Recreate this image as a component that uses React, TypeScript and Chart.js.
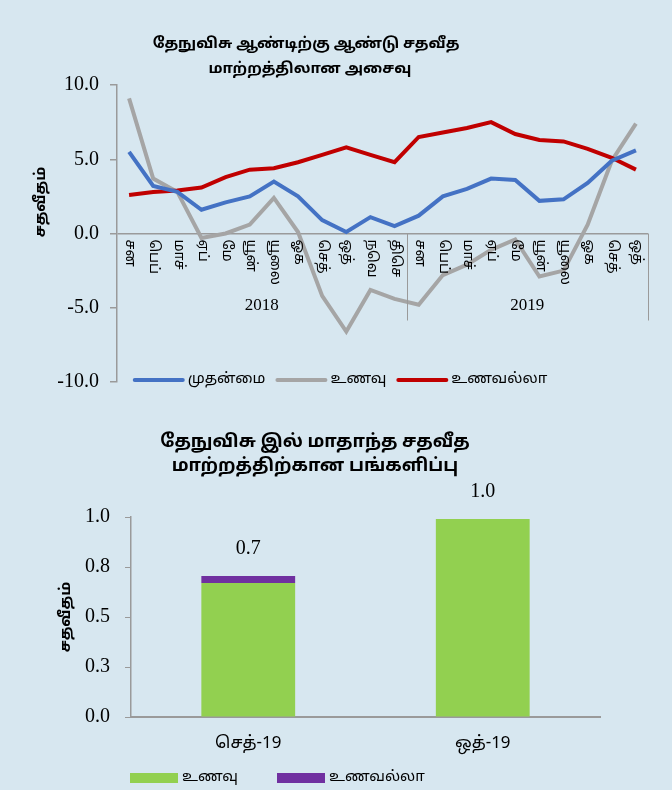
import React, { useEffect, useRef } from "react";
import { Chart, registerables } from "chart.js";
Chart.register(...registerables);

const TAMIL = "'Noto Sans Tamil', 'Lohit Tamil', 'Latha', 'Noto Sans', 'DejaVu Sans', sans-serif";
const SERIF = "'Liberation Serif', 'DejaVu Serif', serif";
const BG = "#d7e7f0";
const AXIS = "#9a9a9a";

// ---- Top chart data ----
const topTitle = ["தேநுவிசு ஆண்டிற்கு ஆண்டு சதவீத", "மாற்றத்திலான அசைவு"];
const yTitle = "சதவீதம்";
const months2018 = ["சன", "பெப்", "மாச்", "ஏப்", "மே", "யூன்", "யூலை", "ஓக", "செத்", "ஒத்", "நவெ", "திசெ"];
const months2019 = ["சன", "பெப்", "மாச்", "ஏப்", "மே", "யூன்", "யூலை", "ஓக", "செத்", "ஒத்"];
const years = ["2018", "2019"];
const seriesNames = ["முதன்மை", "உணவு", "உணவல்லா"];
const headline = [5.5, 3.2, 2.8, 1.6, 2.1, 2.5, 3.5, 2.5, 0.9, 0.1, 1.1, 0.5, 1.2, 2.5, 3.0, 3.7, 3.6, 2.2, 2.3, 3.4, 4.9, 5.6];
const food = [9.1, 3.7, 2.8, -0.3, 0.0, 0.6, 2.4, 0.1, -4.2, -6.6, -3.8, -4.4, -4.8, -2.8, -2.1, -1.1, -0.4, -2.9, -2.5, 0.6, 4.9, 7.4];
const nonFood = [2.6, 2.8, 2.9, 3.1, 3.8, 4.3, 4.4, 4.8, 5.3, 5.8, 5.3, 4.8, 6.5, 6.8, 7.1, 7.5, 6.7, 6.3, 6.2, 5.7, 5.1, 4.3];
const seriesColors = ["#4472c4", "#a5a5a5", "#c00000"];

// ---- Bottom chart data ----
const bottomTitle = ["தேநுவிசு இல் மாதாந்த சதவீத", "மாற்றத்திற்கான பங்களிப்பு"];
const barCategories = ["செத்-19", "ஒத்-19"];
const barNames = ["உணவு", "உணவல்லா"];
const barFood = [0.67, 0.99];
const barNonFood = [0.035, 0.0];
const barColors = ["#92d050", "#7030a0"];

const topLabels = [...months2018, ...months2019];

const topDecor = {
  id: "topDecor",
  afterDraw(chart: any) {
    const { ctx, scales } = chart;
    const x = scales.x;
    const y = scales.y;
    const zeroY = y.getPixelForValue(0);
    ctx.save();
    // titles
    ctx.fillStyle = "#000";
    ctx.textAlign = "center";
    ctx.textBaseline = "middle";
    ctx.font = `bold 15px ${TAMIL}`;
    ctx.fillText(topTitle[0], 306, 45);
    ctx.fillText(topTitle[1], 310, 70);
    // y title
    ctx.save();
    ctx.translate(42, 202);
    ctx.rotate(-Math.PI / 2);
    ctx.font = `bold 15px ${TAMIL}`;
    ctx.fillText(yTitle, 0, 0);
    ctx.restore();
    // month labels rotated clockwise
    ctx.font = `14px ${TAMIL}`;
    topLabels.forEach((lab, i) => {
      const px = x.getPixelForValue(i);
      ctx.save();
      ctx.translate(px, zeroY + 6);
      ctx.rotate(Math.PI / 2);
      ctx.textAlign = "left";
      ctx.textBaseline = "middle";
      ctx.fillText(lab, 0, 0);
      ctx.restore();
    });
    // group separators and year labels
    ctx.strokeStyle = AXIS;
    ctx.lineWidth = 1;
    const bounds = [-0.5, months2018.length - 0.5, topLabels.length - 0.5];
    for (let g = 1; g < bounds.length; g++) {
      const bx = Math.round(x.getPixelForValue(bounds[g])) + 0.5;
      ctx.beginPath();
      ctx.moveTo(bx, zeroY);
      ctx.lineTo(bx, zeroY + 87);
      ctx.stroke();
    }
    ctx.font = `17px ${SERIF}`;
    ctx.textAlign = "center";
    for (let g = 0; g < years.length; g++) {
      const cx = (x.getPixelForValue(bounds[g]) + x.getPixelForValue(bounds[g + 1])) / 2;
      ctx.fillText(years[g], cx, zeroY + 72);
    }
    // legend
    ctx.font = `15px ${TAMIL}`;
    ctx.textBaseline = "middle";
    ctx.textAlign = "left";
    const lineW = 52;
    const widths = seriesNames.map((n) => lineW + 3 + ctx.measureText(n).width);
    const gap = 10;
    const total = widths.reduce((a, b) => a + b, 0) + gap * (widths.length - 1);
    let lx = 340 - total / 2;
    const ly = 380;
    seriesNames.forEach((n, i) => {
      ctx.strokeStyle = seriesColors[i];
      ctx.lineWidth = 4;
      ctx.lineCap = "round";
      ctx.beginPath();
      ctx.moveTo(lx + 2, ly);
      ctx.lineTo(lx + lineW - 2, ly);
      ctx.stroke();
      ctx.fillStyle = "#000";
      ctx.fillText(n, lx + lineW + 3, ly);
      lx += widths[i] + gap;
    });
    ctx.restore();
  },
};

const bottomDecor = {
  id: "bottomDecor",
  afterDraw(chart: any) {
    const { ctx, scales } = chart;
    const x = scales.x;
    const y = scales.y;
    ctx.save();
    ctx.fillStyle = "#000";
    ctx.textAlign = "center";
    ctx.textBaseline = "middle";
    ctx.font = `bold 18px ${TAMIL}`;
    ctx.fillText(bottomTitle[0], 315, 43);
    ctx.fillText(bottomTitle[1], 315, 67);
    // y title
    ctx.save();
    ctx.translate(67, y.getPixelForValue(0.5));
    ctx.rotate(-Math.PI / 2);
    ctx.font = `bold 15px ${TAMIL}`;
    ctx.fillText(yTitle, 0, 0);
    ctx.restore();
    // totals
    ctx.font = `20px ${SERIF}`;
    barCategories.forEach((c, i) => {
      const tot = barFood[i] + barNonFood[i];
      const py = y.getPixelForValue(tot) - 27;
      ctx.fillText(tot.toFixed(1), x.getPixelForValue(i), py);
    });
    // legend
    ctx.font = `15px ${TAMIL}`;
    ctx.textAlign = "left";
    const boxW = 48;
    let lx = 130;
    const ly = 378;
    barNames.forEach((n, i) => {
      ctx.fillStyle = barColors[i];
      ctx.fillRect(lx, ly - 5, boxW, 10);
      ctx.fillStyle = "#000";
      ctx.fillText(n, lx + boxW + 4, ly);
      lx += 147;
    });
    ctx.restore();
  },
};

export default function App() {
  const topRef = useRef<HTMLCanvasElement>(null);
  const botRef = useRef<HTMLCanvasElement>(null);

  useEffect(() => {
    const top = new Chart(topRef.current as HTMLCanvasElement, {
      type: "line",
      data: {
        labels: topLabels,
        datasets: [headline, food, nonFood].map((d, i) => ({
          label: seriesNames[i],
          data: d,
          borderColor: seriesColors[i],
          backgroundColor: seriesColors[i],
          borderWidth: 4,
          pointRadius: 0,
          tension: 0,
          order: i === 0 ? 0 : i === 2 ? 1 : 2,
        })),
      },
      options: {
        animation: false,
        responsive: false,
        layout: { padding: { left: 0, right: 24, top: 85, bottom: 18 } },
        plugins: { legend: { display: false }, title: { display: false }, tooltip: { enabled: false } },
        scales: {
          x: { display: false, offset: true },
          y: {
            min: -10,
            max: 10,
            afterFit: (s: any) => {
              s.width = 117;
              s.paddingTop = 0;
              s.paddingBottom = 0;
            },
            ticks: {
              stepSize: 5,
              callback: (v: any) => Number(v).toFixed(1),
              color: "#000",
              font: { family: SERIF, size: 20 },
              padding: 11,
            },
            grid: {
              color: (c: any) => (c.tick && c.tick.value === 0 ? AXIS : "rgba(0,0,0,0)"),
              tickColor: AXIS,
              tickLength: 7,
              lineWidth: 1.5,
            },
            border: { color: AXIS, width: 1.5 },
          },
        },
      },
      plugins: [topDecor],
    });

    const bot = new Chart(botRef.current as HTMLCanvasElement, {
      type: "bar",
      data: {
        labels: barCategories,
        datasets: [barFood, barNonFood].map((d, i) => ({
          label: barNames[i],
          data: d,
          backgroundColor: barColors[i],
          borderWidth: 0,
          categoryPercentage: 1,
          barPercentage: 0.4,
        })),
      },
      options: {
        animation: false,
        responsive: false,
        layout: { padding: { left: 0, right: 72, top: 117, bottom: 33 } },
        plugins: { legend: { display: false }, title: { display: false }, tooltip: { enabled: false } },
        scales: {
          x: {
            stacked: true,
            afterFit: (s: any) => {
              s.height = 40;
            },
            grid: { display: false, drawTicks: false },
            border: { color: AXIS, width: 2 },
            ticks: { color: "#000", font: { family: TAMIL, size: 17 }, padding: 17 },
          },
          y: {
            stacked: true,
            min: 0,
            max: 1,
            afterFit: (s: any) => {
              s.width = 131;
            },
            ticks: {
              stepSize: 0.25,
              callback: (v: any) => Number(v).toFixed(1),
              color: "#000",
              font: { family: SERIF, size: 20 },
              padding: 15,
            },
            grid: { drawOnChartArea: false, tickColor: AXIS, tickLength: 6 },
            border: { color: AXIS, width: 1.5 },
          },
        },
      },
      plugins: [bottomDecor],
    });

    return () => {
      top.destroy();
      bot.destroy();
    };
  }, []);

  return (
    <div style={{ position: "absolute", left: 0, top: 0, width: 672, height: 790, background: BG, overflow: "hidden" }}>
      <canvas ref={topRef} width={672} height={400} style={{ display: "block" }} />
      <canvas ref={botRef} width={672} height={390} style={{ display: "block" }} />
    </div>
  );
}
